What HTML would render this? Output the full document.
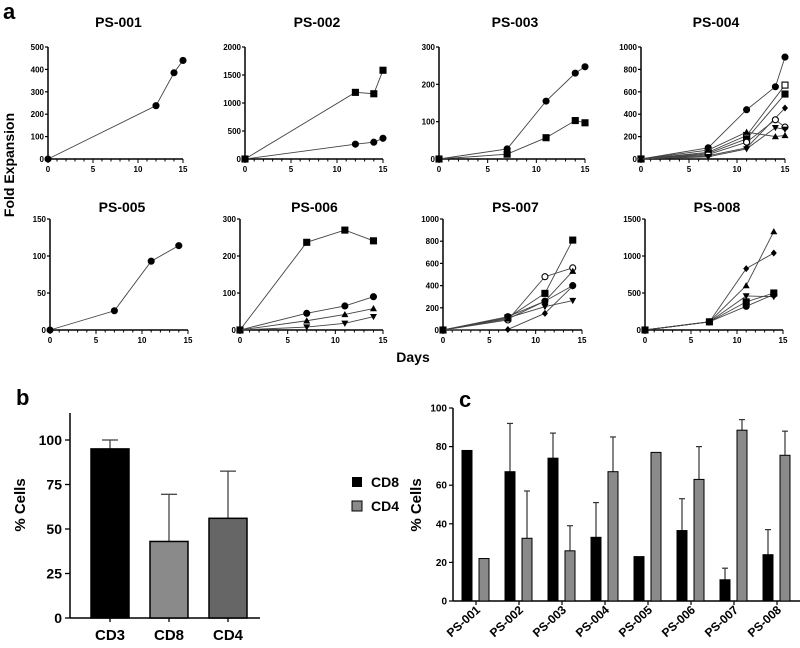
<!DOCTYPE html>
<html><head><meta charset="utf-8"><style>
html,body{margin:0;padding:0;background:#fff;}
svg{display:block;font-family:"Liberation Sans",Arial,sans-serif;}
</style></head><body>
<svg id="fig" width="800" height="648" viewBox="0 0 800 648"></svg>
<script>
// ---------- data: panel a ----------
const panelTitles = ["PS-001","PS-002","PS-003","PS-004","PS-005","PS-006","PS-007","PS-008"];
const panelYMax = [500,2000,300,1000,150,300,1000,1500];
const panelYStep = [100,500,100,200,50,100,200,500];
const ps001Days = [0,12,14,15];
const ps001Circle = [0,238,385,440];
const ps002Days = [0,12,14,15];
const ps002Square = [0,1190,1165,1585];
const ps002Circle = [0,265,300,370];
const ps003Days = [0,7,11,14,15];
const ps003Circle = [0,27,155,230,247];
const ps003Square = [0,13,57,103,97];
const ps004Days = [0,7,11,14,15];
const ps004Circle = [0,100,440,645,910];
const ps004OpenSquare = [0,60,210,null,660];
const ps004Square = [0,50,180,null,580];
const ps004Diamond = [0,30,100,null,455];
const ps004OpenCircle = [0,40,150,350,285];
const ps004Down = [0,20,90,280,265];
const ps004Up = [0,80,240,200,210];
const ps005Days = [0,7,11,14];
const ps005Circle = [0,26,93,114];
const ps006Days = [0,7,11,14];
const ps006Square = [0,237,270,241];
const ps006Circle = [0,45,65,90];
const ps006Up = [0,25,42,58];
const ps006Down = [0,8,18,36];
const ps007Days = [0,7,11,14];
const ps007Square = [0,110,330,810];
const ps007OpenCircle = [0,90,480,560];
const ps007Up = [0,100,260,530];
const ps007Circle = [0,120,260,400];
const ps007Down = [0,110,210,265];
const ps007Diamond = [0,5,150,395];
const ps008Days = [0,7,11,14];
const ps008Up = [0,110,600,1330];
const ps008Diamond = [0,110,830,1040];
const ps008Down = [0,110,460,450];
const ps008Square = [0,110,380,500];
const ps008Circle = [0,110,320,480];
// ---------- data: panel b ----------
const bCategories = ["CD3","CD8","CD4"];
const bValues = [95,43,56];
const bErrTop = [100,69.5,82.5];
const bTicks = [0,25,50,75,100];
// ---------- data: panel c ----------
const cCategories = ["PS-001","PS-002","PS-003","PS-004","PS-005","PS-006","PS-007","PS-008"];
const cCD8 = [78,67,74,33,23,36.5,11,24];
const cCD8Err = [null,92,87,51,null,53,17,37];
const cCD4 = [22,32.5,26,67,77,63,88.5,75.5];
const cCD4Err = [null,57,39,85,null,80,94,88];
const cTicks = [0,20,40,60,80,100];

const NS="http://www.w3.org/2000/svg";
const svg=document.getElementById('fig');
function mk(tag,attrs,parent,text){const e=document.createElementNS(NS,tag);for(const k in attrs)e.setAttribute(k,attrs[k]);if(text!==undefined)e.textContent=text;(parent||svg).appendChild(e);return e;}

const boxes=[
 {x0:48,x1:183,yb:159,yt:47,ty:27},{x0:245,x1:383,yb:159,yt:47,ty:27},{x0:439,x1:585,yb:159,yt:47,ty:27},{x0:641,x1:785,yb:159,yt:47,ty:27},
 {x0:50,x1:188,yb:330,yt:219,ty:212},{x0:240,x1:383,yb:330,yt:219,ty:212},{x0:443,x1:582,yb:330,yt:219,ty:212},{x0:645,x1:783,yb:330,yt:219,ty:212}];
const panelSeries=[
 [[ps001Days,ps001Circle,'circle']],
 [[ps002Days,ps002Square,'square'],[ps002Days,ps002Circle,'circle']],
 [[ps003Days,ps003Circle,'circle'],[ps003Days,ps003Square,'square']],
 [[ps004Days,ps004Circle,'circle'],[ps004Days,ps004OpenSquare,'osquare'],[ps004Days,ps004Square,'square'],[ps004Days,ps004Diamond,'diamond'],[ps004Days,ps004OpenCircle,'ocircle'],[ps004Days,ps004Down,'down'],[ps004Days,ps004Up,'up']],
 [[ps005Days,ps005Circle,'circle']],
 [[ps006Days,ps006Square,'square'],[ps006Days,ps006Circle,'circle'],[ps006Days,ps006Up,'up'],[ps006Days,ps006Down,'down']],
 [[ps007Days,ps007Square,'square'],[ps007Days,ps007OpenCircle,'ocircle'],[ps007Days,ps007Up,'up'],[ps007Days,ps007Circle,'circle'],[ps007Days,ps007Down,'down'],[ps007Days,ps007Diamond,'diamond']],
 [[ps008Days,ps008Up,'up'],[ps008Days,ps008Diamond,'diamond'],[ps008Days,ps008Down,'down'],[ps008Days,ps008Square,'square'],[ps008Days,ps008Circle,'circle']]];

function marker(g,type,cx,cy){
  let e;
  if(type==='circle'||type==='ocircle'){e=mk('circle',{cx:cx,cy:cy,r:3,fill:type==='circle'?'#000':'#fff',stroke:'#000','stroke-width':1.1},g);}
  else if(type==='square'||type==='osquare'){e=mk('rect',{x:cx-3,y:cy-3,width:6,height:6,fill:type==='square'?'#000':'#fff',stroke:'#000','stroke-width':1.1},g);}
  else if(type==='diamond'){e=mk('polygon',{points:`${cx},${cy-3.5} ${cx+3},${cy} ${cx},${cy+3.5} ${cx-3},${cy}`,fill:'#000'},g);}
  else if(type==='up'){e=mk('polygon',{points:`${cx},${cy-3.5} ${cx+3.5},${cy+2.7} ${cx-3.5},${cy+2.7}`,fill:'#000'},g);}
  else {e=mk('polygon',{points:`${cx},${cy+3.5} ${cx+3.5},${cy-2.7} ${cx-3.5},${cy-2.7}`,fill:'#000'},g);}
  
  
}

mk('text',{x:3,y:19,'font-size':22,'font-weight':'bold',},svg,'a');
mk('text',{x:0,y:0,'font-size':14,'font-weight':'bold','text-anchor':'middle',transform:'translate(14,165) rotate(-90)',},svg,'Fold Expansion');
mk('text',{x:413,y:362,'font-size':14,'font-weight':'bold','text-anchor':'middle',},svg,'Days');

boxes.forEach((b,i)=>{
  const g=mk('g',{});
  const xs=v=>b.x0+(b.x1-b.x0)*v/15;
  const ys=v=>b.yb-(b.yb-b.yt)*v/panelYMax[i];
  mk('text',{x:(b.x0+b.x1)/2+3,y:b.ty,'font-size':14,'font-weight':'bold','text-anchor':'middle',},g,panelTitles[i]);
  mk('line',{x1:b.x0,y1:b.yb,x2:b.x0,y2:b.yt,stroke:'#000','stroke-width':1.5,},g);
  mk('line',{x1:b.x0,y1:b.yb,x2:b.x1,y2:b.yb,stroke:'#000','stroke-width':1.5,},g);
  for(let v=0;v<=panelYMax[i];v+=panelYStep[i]){
    const y=ys(v);
    mk('line',{x1:b.x0-3,y1:y,x2:b.x0,y2:y,stroke:'#000','stroke-width':1.2},g);
    mk('text',{x:b.x0-4,y:y+3,'font-size':8,'font-weight':'bold','text-anchor':'end',},g,String(v));
  }
  for(let d=0;d<=15;d++){
    const x=xs(d);const big=d%5===0;
    mk('line',{x1:x,y1:b.yb,x2:x,y2:b.yb+(big?4:2.5),stroke:'#000','stroke-width':1},g);
    if(big)mk('text',{x:x,y:b.yb+13,'font-size':8,'font-weight':'bold','text-anchor':'middle',},g,String(d));
  }
  panelSeries[i].forEach(([days,vals,type])=>{
    const pts=[];days.forEach((d,k)=>{if(vals[k]!==null)pts.push([xs(d),ys(vals[k])]);});
    const pl=mk('polyline',{points:pts.map(p=>p.join(',')).join(' '),fill:'none',stroke:'#444','stroke-width':0.9},g);
    
    
    pts.forEach(p=>marker(g,type,p[0],p[1]));
  });
});

// ---------- panel b ----------
(function(){
  const g=mk('g',{});
  const x0=70,yb=618,ytop=413,y100=440;
  const ys=v=>yb-(yb-y100)*v/100;
  mk('text',{x:16,y:405,'font-size':22,'font-weight':'bold',},g,'b');
  mk('text',{x:0,y:0,'font-size':15,'font-weight':'bold','text-anchor':'middle',transform:'translate(25,505) rotate(-90)',},g,'% Cells');
  mk('line',{x1:x0,y1:yb,x2:x0,y2:ytop,stroke:'#000','stroke-width':1.5,},g);
  mk('line',{x1:x0,y1:yb,x2:260,y2:yb,stroke:'#000','stroke-width':1.5,},g);
  bTicks.forEach(v=>{const y=ys(v);
    mk('line',{x1:x0-5,y1:y,x2:x0,y2:y,stroke:'#000','stroke-width':1.3},g);
    mk('text',{x:x0-8,y:y+5,'font-size':14,'font-weight':'bold','text-anchor':'end',},g,String(v));});
  const fills=['#000','#8a8a8a','#666'];
  bCategories.forEach((c,i)=>{
    const cx=110+59*i,w=38;
    mk('line',{x1:cx,y1:ys(bValues[i]),x2:cx,y2:ys(bErrTop[i]),stroke:'#444','stroke-width':1.3,},g);
    mk('line',{x1:cx-8,y1:ys(bErrTop[i]),x2:cx+8,y2:ys(bErrTop[i]),stroke:'#444','stroke-width':1.3,},g);
    const r=mk('rect',{x:cx-w/2,y:ys(bValues[i]),width:w,height:yb-ys(bValues[i]),fill:fills[i],stroke:'#000','stroke-width':1.5},g);
    
    
    mk('line',{x1:cx,y1:yb,x2:cx,y2:yb+4,stroke:'#000','stroke-width':1.3},g);
    mk('text',{x:cx,y:640,'font-size':15,'font-weight':'bold','text-anchor':'middle',},g,c);
  });
})();

// ---------- panel c ----------
(function(){
  const g=mk('g',{});
  const x0=453,yb=601,y100=408;
  const ys=v=>yb-(yb-y100)*v/100;
  mk('text',{x:459,y:407,'font-size':22,'font-weight':'bold',},g,'c');
  mk('text',{x:0,y:0,'font-size':15,'font-weight':'bold','text-anchor':'middle',transform:'translate(421,505) rotate(-90)',},g,'% Cells');
  const lg=mk('g',{},g);
  mk('rect',{x:352,y:477,width:10,height:10,fill:'#000',},lg);
  mk('text',{x:371,y:487,'font-size':14,'font-weight':'bold',},lg,'CD8');
  mk('rect',{x:352,y:501,width:10,height:10,fill:'#8a8a8a',stroke:'#000','stroke-width':1,},lg);
  mk('text',{x:371,y:511,'font-size':14,'font-weight':'bold',},lg,'CD4');
  mk('line',{x1:x0,y1:yb,x2:x0,y2:y100,stroke:'#000','stroke-width':1.5,},g);
  mk('line',{x1:x0,y1:yb,x2:800,y2:yb,stroke:'#000','stroke-width':1.5,},g);
  cTicks.forEach(v=>{const y=ys(v);
    mk('line',{x1:x0-4,y1:y,x2:x0,y2:y,stroke:'#000','stroke-width':1.2},g);
    mk('text',{x:x0-6,y:y+3.5,'font-size':10,'font-weight':'bold','text-anchor':'end',},g,String(v));});
  function bar(cx,v,err,fill,name){
    if(err!==null){
      mk('line',{x1:cx,y1:ys(v),x2:cx,y2:ys(err),stroke:'#333','stroke-width':1.2,},g);
      mk('line',{x1:cx-3,y1:ys(err),x2:cx+3,y2:ys(err),stroke:'#333','stroke-width':1.2,},g);
    }
    const r=mk('rect',{x:cx-5,y:ys(v),width:10,height:yb-ys(v),fill:fill,stroke:'#000','stroke-width':1},g);
    
    
  }
  cCategories.forEach((c,i)=>{
    const cx=474+43*i;
    bar(cx-7,cCD8[i],cCD8Err[i],'#000','bar-cd8-'+c.toLowerCase());
    bar(cx+10,cCD4[i],cCD4Err[i],'#8a8a8a','bar-cd4-'+c.toLowerCase());
    mk('line',{x1:cx+2,y1:yb,x2:cx+2,y2:yb+4,stroke:'#000','stroke-width':1.2},g);
    mk('text',{x:0,y:0,'font-size':12,'font-weight':'bold','text-anchor':'end',transform:`translate(${cx+7},${yb+10}) rotate(-42)`,},g,c);
  });
})();
</script>
</body></html>
